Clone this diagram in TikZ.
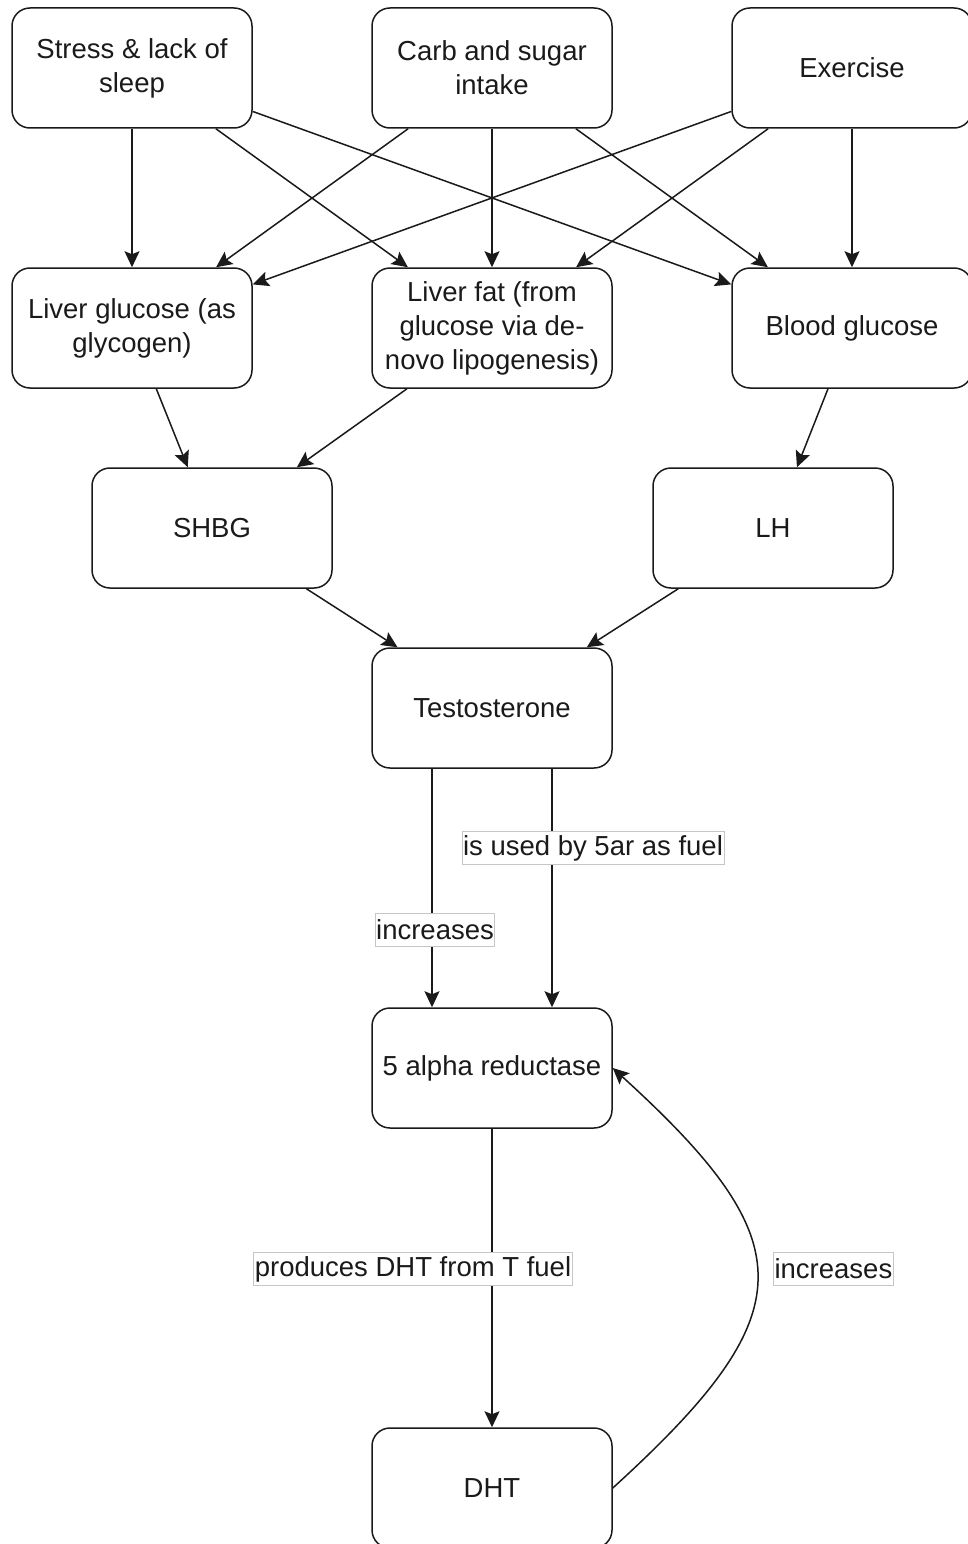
\documentclass[tikz,border=0pt]{standalone}
\usepackage{fontspec}
\setmainfont{Liberation Sans}
\usetikzlibrary{arrows.meta}
\definecolor{ink}{HTML}{1A1A1A}
\begin{document}
\begin{tikzpicture}[x=1pt,y=-1pt,
 box/.style={draw=ink,line width=1.5pt,rounded corners=18pt,minimum width=240pt,minimum height=120pt,inner sep=0pt,align=center,font=\fontsize{27.5}{34}\selectfont,text=ink},
 conn/.style={draw=ink,line width=1.5pt,arrows={-Stealth[length=16pt,width=15pt,inset=3pt]}},
 lbl/.style={draw=gray!45,line width=0.8pt,fill=white,inner xsep=1pt,inner ysep=0pt,minimum height=33pt,font=\fontsize{27.5}{34}\selectfont,text=ink}]
\clip (0,0) rectangle (968,1544);
\fill[white] (0,0) rectangle (968,1544);
% nodes
\node[box] (stress) at (132,68) {Stress \& lack of\\sleep};
\node[box] (carb) at (492,68) {Carb and sugar\\intake};
\node[box] (ex) at (852,68) {Exercise};
\node[box] (lg) at (132,328) {Liver glucose (as\\glycogen)};
\node[box] (lf) at (492,328) {Liver fat (from\\glucose via de-\\novo lipogenesis)};
\node[box] (bg) at (852,328) {Blood glucose};
\node[box] (shbg) at (212,528) {SHBG};
\node[box] (lh) at (773,528) {LH};
\node[box] (t) at (492,708) {Testosterone};
\node[box] (ar) at (492,1068) {5 alpha reductase};
\node[box] (dht) at (492,1488) {DHT};
% connectors
\draw[conn] (stress) -- (lg);
\draw[conn] (stress) -- (lf);
\draw[conn] (stress) -- (bg);
\draw[conn] (carb) -- (lg);
\draw[conn] (carb) -- (lf);
\draw[conn] (carb) -- (bg);
\draw[conn] (ex) -- (lg);
\draw[conn] (ex) -- (lf);
\draw[conn] (ex) -- (bg);
\draw[conn] (lg) -- (shbg);
\draw[conn] (lf) -- (shbg);
\draw[conn] (bg) -- (lh);
\draw[conn] (shbg) -- (t);
\draw[conn] (lh) -- (t);
\draw[conn] ([xshift=-60pt]t.south) -- node[lbl,pos=0.675,xshift=3pt] (l1) {increases} ([xshift=-60pt]ar.north);
\draw[conn] ([xshift=60pt]t.south) -- node[lbl,pos=0.333,xshift=41pt] (l2) {is used by 5ar as fuel} ([xshift=60pt]ar.north);
\draw[conn] (ar) -- node[lbl,pos=0.47,xshift=-79pt] (l3) {produces DHT from T fuel} (dht);
\draw[conn] (dht.east) .. controls (805,1313) and (805,1243) .. node[lbl,pos=0.5,xshift=76.5pt,yshift=9pt] (l4) {increases} (ar.east);
\end{tikzpicture}
\end{document}
